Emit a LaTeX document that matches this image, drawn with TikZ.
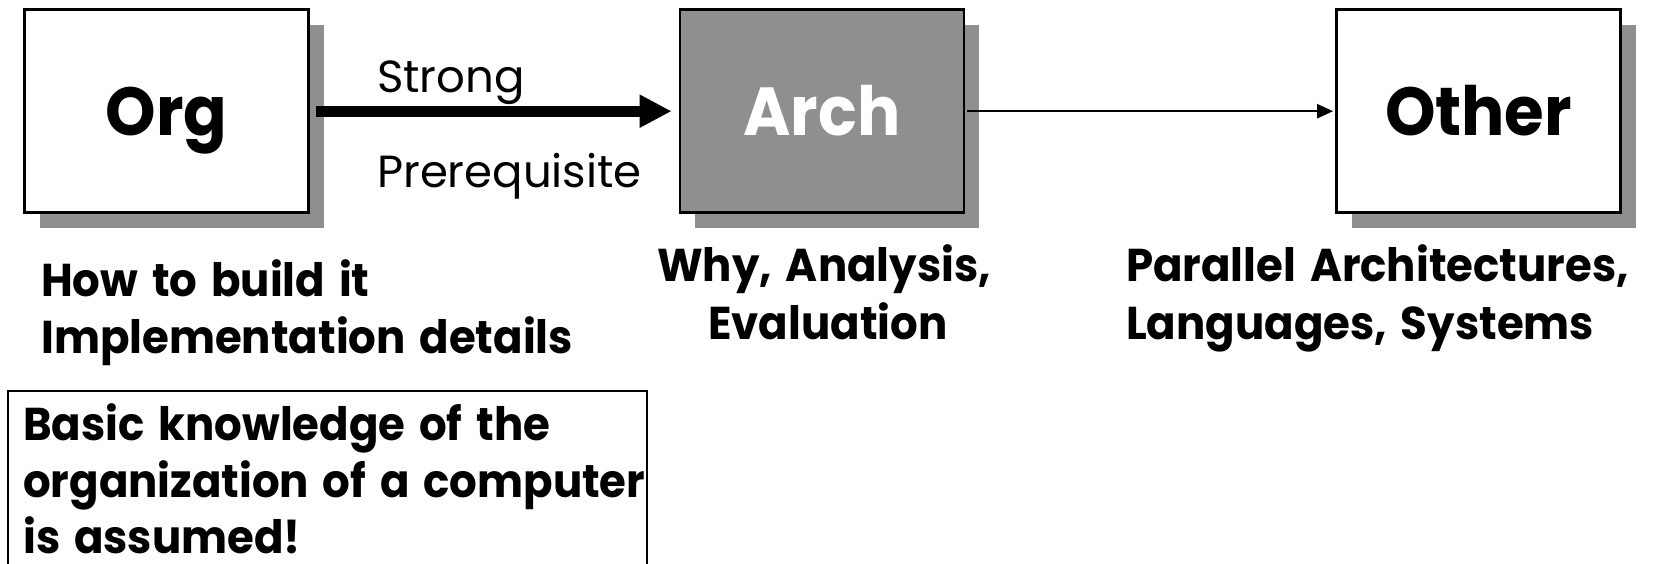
\documentclass[tikz,border=0pt]{standalone}
\usepackage{fontspec}
\setmainfont{Poppins}[BoldFeatures={FakeStretch=0.945}, WordSpace=1.5]
\usetikzlibrary{arrows.meta,shadows}
\definecolor{shade}{RGB}{143,143,143}
\begin{document}
\begin{tikzpicture}[x=1pt,y=-1pt,
  box/.style={draw=black, line width=2.8pt, minimum width=284pt, minimum height=203pt,
    inner sep=0pt, text height=48pt, text depth=0pt,
    font=\fontsize{68}{72}\selectfont\bfseries,
    drop shadow={shadow xshift=15pt, shadow yshift=-15pt, opacity=1, fill=shade}},
  lbl/.style={anchor=base west, inner sep=0pt, font=\fontsize{46}{50}\selectfont\bfseries},
  edgelbl/.style={anchor=base west, inner sep=0pt, font=\fontsize{45}{48}\selectfont},
  strongarrow/.style={line width=11pt, -{Triangle[length=32pt,width=31pt]}},
  weakarrow/.style={line width=2.3pt, -{Triangle[length=16pt,width=14pt]}},
  notebox/.style={draw=black, line width=2pt, anchor=north west, minimum width=639pt,
    minimum height=200pt, inner sep=0pt}
]
\useasboundingbox (0,0) rectangle (1663,563);
\node[box, fill=white] (org) at (166.7,111.2) {Org};
\node[box, fill=shade, text=white] (arch) at (822,111.2) {Arch};
\node[box, fill=white] (other) at (1478.5,111.2) {Other};
\draw[strongarrow] ([xshift=6pt]org.east) -- ([xshift=-7pt]arch.west);
\draw[weakarrow] ([xshift=2pt]arch.east) -- ([xshift=-2pt]other.west);
\node[edgelbl] (strong) at (377,92) {Strong};
\node[edgelbl] (prereq) at (377,187) {Prerequisite};
\node[lbl] (how1) at (41,296) {How to build it};
\node[lbl] (how2) at (41,353) {Implementation details};
\node[lbl] (why1) at (657,281) {Why, Analysis,};
\node[lbl] (why2) at (708,339) {Evaluation};
\node[lbl] (par1) at (1126,281) {Parallel Architectures,};
\node[lbl] (par2) at (1126,339) {Languages, Systems};
\node[notebox] (note) at (7,390) {};
\node[lbl] (note1) at (23,440) {Basic knowledge of the};
\node[lbl] (note2) at (23,497) {organization of a computer};
\node[lbl] (note3) at (23,553) {is assumed!};
\end{tikzpicture}
\end{document}
